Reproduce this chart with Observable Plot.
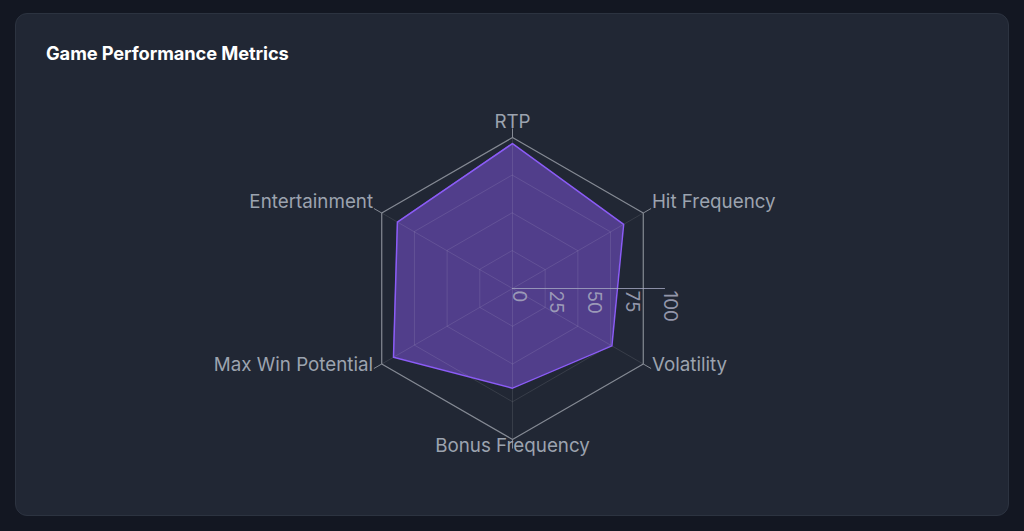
<!DOCTYPE html>
<html>
<head>
<meta charset="utf-8">
<script src="https://cdn.jsdelivr.net/npm/d3@7"></script>
<script src="https://cdn.jsdelivr.net/npm/@observablehq/plot@0.6"></script>
<style>
  html, body { margin: 0; padding: 0; background: #131722; width: 1024px; height: 531px; overflow: hidden; }
  body { position: relative; font-family: Inter, "Noto Sans", sans-serif; }
  .card { position: absolute; left: 15px; top: 13px; width: 992px; height: 501px; background: #212734; border: 1px solid #2c3340; border-radius: 12px; }
  .title { position: absolute; left: 46px; top: 42px; color: #ffffff; font-size: 18.3px; font-weight: 700; letter-spacing: -0.1px; }
  #chart { position: absolute; left: 0; top: 90px; }
</style>
</head>
<body>
<div class="card"></div>
<div class="title">Game Performance Metrics</div>
<div id="chart"></div>
<script>
const metrics = ["RTP", "Hit Frequency", "Volatility", "Bonus Frequency", "Max Win Potential", "Entertainment"];
const values = [96, 85, 76, 66, 91, 88];
const ticks = [0, 25, 50, 75, 100];
const gridRings = [25, 50, 75];

const angle = (i) => (i * 2 * Math.PI) / metrics.length;
const px = (i, v) => v * Math.sin(angle(i));
const py = (i, v) => v * Math.cos(angle(i));

const data = metrics.map((m, i) => ({metric: m, i, value: values[i]}));
const ringPts = gridRings.flatMap((r) => metrics.map((m, i) => ({r, i})));
const outerPts = metrics.map((m, i) => ({r: 100, i}));
const labelR = 106.6;

const cx = 512, cy = 198, R = 151;
const fs = 18.8;

const chart = Plot.plot({
  width: 1024,
  height: 420,
  margin: 0,
  x: {domain: [-100, 100], range: [cx - R, cx + R], axis: null},
  y: {domain: [-100, 100], range: [cy + R, cy - R], axis: null},
  style: {background: "transparent", fontFamily: "Inter, 'Noto Sans', sans-serif"},
  marks: [
    Plot.area(data, {
      x1: (d) => px(d.i, d.value), y1: (d) => py(d.i, d.value),
      x2: 0, y2: 0, curve: "linear-closed",
      fill: "#8b5cf6", fillOpacity: 0.45
    }),
    Plot.line(ringPts, {
      x: (d) => px(d.i, d.r), y: (d) => py(d.i, d.r), z: "r",
      curve: "linear-closed", stroke: "#ffffff", strokeOpacity: 0.1, strokeWidth: 1
    }),
    Plot.link(data, {
      x1: 0, y1: 0, x2: (d) => px(d.i, 100), y2: (d) => py(d.i, 100),
      stroke: "#ffffff", strokeOpacity: 0.1, strokeWidth: 1
    }),
    Plot.link(data, {
      x1: (d) => px(d.i, 100), y1: (d) => py(d.i, 100),
      x2: (d) => px(d.i, 106), y2: (d) => py(d.i, 106),
      stroke: "#858a94", strokeWidth: 1
    }),
    Plot.line(outerPts, {
      x: (d) => px(d.i, d.r), y: (d) => py(d.i, d.r),
      curve: "linear-closed", stroke: "#858a94", strokeWidth: 1.2
    }),
    Plot.line(data, {
      x: (d) => px(d.i, d.value), y: (d) => py(d.i, d.value),
      curve: "linear-closed", stroke: "#8b5cf6", strokeWidth: 1.5
    }),
    Plot.ruleY([0], {x1: 0, x2: 101.3, stroke: "#a5a9c2", strokeOpacity: 0.8, strokeWidth: 1}),
    Plot.text(ticks, {
      x: (d) => d, y: 0, text: (d) => String(d), rotate: 90,
      textAnchor: "start", lineAnchor: "bottom", dy: 2,
      fill: "#a9abc0", fillOpacity: 0.85, fontSize: fs
    }),
    Plot.text(data.filter((d) => d.i === 0), {
      x: (d) => px(d.i, labelR), y: (d) => py(d.i, labelR), text: "metric",
      textAnchor: "middle", lineAnchor: "bottom", fill: "#9ca3af", fontSize: fs
    }),
    Plot.text(data.filter((d) => d.i === 3), {
      x: (d) => px(d.i, labelR), y: (d) => py(d.i, labelR), text: "metric",
      textAnchor: "middle", lineAnchor: "bottom", dy: 3, fill: "#9ca3af", fontSize: fs
    }),
    Plot.text(data.filter((d) => d.i === 1), {
      x: (d) => px(d.i, labelR), y: (d) => py(d.i, labelR), text: "metric",
      textAnchor: "start", lineAnchor: "bottom", fill: "#9ca3af", fontSize: fs
    }),
    Plot.text(data.filter((d) => d.i === 2), {
      x: (d) => px(d.i, labelR), y: (d) => py(d.i, labelR), text: "metric",
      textAnchor: "start", lineAnchor: "bottom", dy: 2, fill: "#9ca3af", fontSize: fs
    }),
    Plot.text(data.filter((d) => d.i === 4), {
      x: (d) => px(d.i, labelR), y: (d) => py(d.i, labelR), text: "metric",
      textAnchor: "end", lineAnchor: "bottom", dy: 2, fill: "#9ca3af", fontSize: fs
    }),
    Plot.text(data.filter((d) => d.i === 5), {
      x: (d) => px(d.i, labelR), y: (d) => py(d.i, labelR), text: "metric",
      textAnchor: "end", lineAnchor: "bottom", fill: "#9ca3af", fontSize: fs
    })
  ]
});
document.getElementById("chart").appendChild(chart);
</script>
</body>
</html>
